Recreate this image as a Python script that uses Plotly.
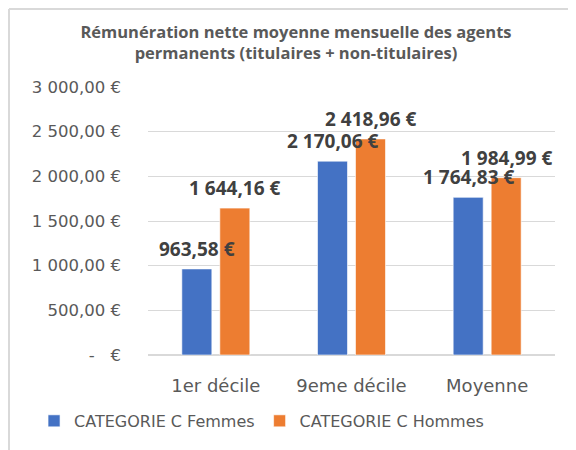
import plotly.graph_objects as go

categories = ["1er décile", "9eme décile", "Moyenne"]
femmes = [963.58, 2170.06, 1764.83]
hommes = [1644.16, 2418.96, 1984.99]
series_names = ["CATEGORIE C Femmes", "CATEGORIE C Hommes"]
tick_vals = [0, 500, 1000, 1500, 2000, 2500, 3000]
tick_text = ["-\u00a0\u00a0\u00a0€", "500,00\u00a0€", "1\u00a0000,00\u00a0€", "1\u00a0500,00\u00a0€",
             "2\u00a0000,00\u00a0€", "2\u00a0500,00\u00a0€", "3\u00a0000,00\u00a0€"]
title_text = "Rémunération nette moyenne mensuelle des agents<br>permanents (titulaires + non-titulaires)"

colors = ["#4472C4", "#ED7D31"]
FONT = "Open Sans"
TICKFONT = "DejaVu Sans"
GREY = "#595959"


def fmt(v):
    s = f"{v:,.2f}"
    ent, dec = s.split(".")
    return ent.replace(",", "\u00a0") + "," + dec + "\u00a0€"


fig = go.Figure()
for name, vals, col in zip(series_names, [femmes, hommes], colors):
    fig.add_trace(go.Bar(x=categories, y=vals, name=name,
                         marker=dict(color=col, line=dict(color="rgba(255,255,255,0.6)", width=1))))

annotations = []
for shift, vals in zip([-19, 19], [femmes, hommes]):
    for c, v in zip(categories, vals):
        annotations.append(dict(x=c, y=v, xref="x", yref="y", text=fmt(v), showarrow=False,
                                xshift=shift, yshift=5, yanchor="bottom",
                                font=dict(family=FONT, size=19, color="#404040", weight="bold")))

fig.update_layout(
    width=576, height=450,
    margin=dict(l=140, r=29, t=79, b=103),
    paper_bgcolor="white", plot_bgcolor="white",
    barmode="group", bargap=0.44, bargroupgap=0.21,
    title=dict(text=title_text, x=288 / 576, xref="container", xanchor="center",
               y=1 - 30 / 450, yanchor="middle",
               font=dict(family=FONT, size=16.5, color=GREY, weight="bold")),
    font=dict(family=FONT, color=GREY),
    showlegend=True,
    legend=dict(orientation="h", xref="paper", x=-0.28, xanchor="left",
                yref="paper", y=-0.246, yanchor="middle",
                font=dict(family=TICKFONT, size=16, color=GREY), itemwidth=30,
                traceorder="normal"),
    annotations=annotations,
    shapes=[
        dict(type="line", xref="paper", yref="paper", x0=-139 / 407, x1=1.2, y0=1 + 78 / 268, y1=1 + 78 / 268,
             line=dict(color="#d9d9d9", width=2)),
        dict(type="line", xref="paper", yref="paper", x0=-139 / 407, x1=-139 / 407, y0=1 + 78 / 268, y1=-0.5,
             line=dict(color="#d9d9d9", width=2)),
    ],
)
fig.update_yaxes(range=[0, 3000], tickvals=tick_vals, ticktext=tick_text, automargin=False,
                 showgrid=True, gridcolor="#d9d9d9", gridwidth=1,
                 zeroline=True, zerolinecolor="#d9d9d9", zerolinewidth=1.5,
                 ticklabelstandoff=26, tickfont=dict(family=TICKFONT, size=16.5, color=GREY),
                 fixedrange=True)
fig.update_xaxes(showline=False, ticklabelstandoff=18, automargin=False,
                 tickfont=dict(family=TICKFONT, size=18, color=GREY))

fig.write_html("out.html")
